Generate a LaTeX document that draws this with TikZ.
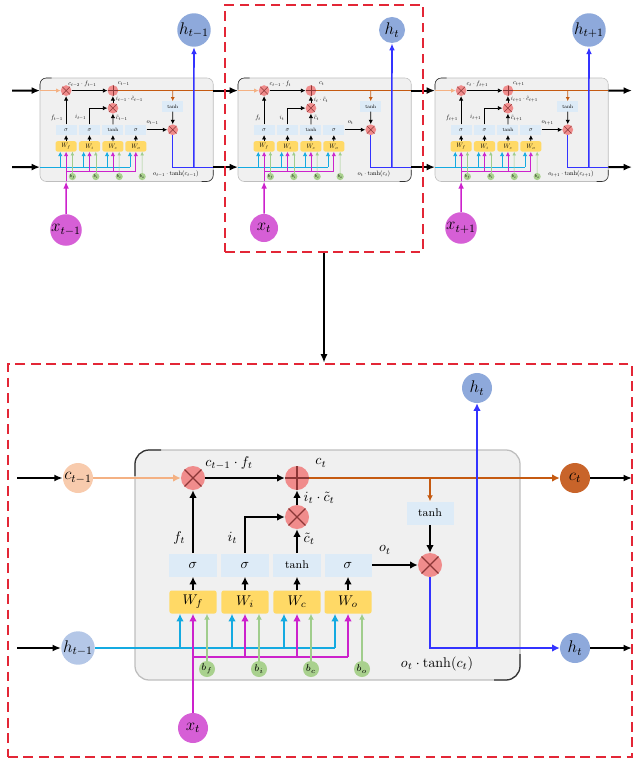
\documentclass[tikz,border=0pt]{standalone}
\usetikzlibrary{arrows.meta, positioning}
\definecolor{lstmred}{RGB}{227,38,54}
\definecolor{cellgray}{RGB}{240,240,240}
\definecolor{rimgray}{RGB}{190,190,190}
\definecolor{gatefill}{RGB}{221,235,247}
\definecolor{wfill}{RGB}{255,217,102}
\definecolor{opfill}{RGB}{240,140,140}
\definecolor{opline}{RGB}{140,55,55}
\definecolor{cellorange}{RGB}{197,90,17}
\definecolor{lightorange}{RGB}{244,177,131}
\definecolor{peach}{RGB}{248,203,173}
\definecolor{corange}{RGB}{200,100,42}
\definecolor{hblue}{RGB}{142,169,219}
\definecolor{hpale}{RGB}{180,199,231}
\definecolor{outblue}{RGB}{51,51,255}
\definecolor{hcyan}{RGB}{20,170,225}
\definecolor{xmag}{RGB}{204,34,204}
\definecolor{xfill}{RGB}{214,95,214}
\definecolor{bgreen}{RGB}{160,205,140}
\definecolor{bfill}{RGB}{169,209,142}

\begin{document}
\begin{tikzpicture}[x=0.025cm, y=-0.025cm,
    wire/.style={line width=1.3pt},
    fine/.style={line width=0.9pt},
    cellround/.style={rounded corners=10pt},
    small/.style={scale=0.45, transform shape, wire/.style={line width=0.55pt}, fine/.style={line width=0.4pt}, cellround/.style={rounded corners=4.5pt}},
    arr/.style={-{Latex[length=1.5pt 3, width=1.5pt 3]}},
    cellbody/.style={cellround, fill=cellgray, draw=rimgray, fine},
    cellrim/.style={cellround, draw=black!80, fine},
    prodnode/.style={circle, fill=opfill, minimum size=0.6cm, inner sep=0pt, path picture={\draw[opline, fine] (path picture bounding box.north west) -- (path picture bounding box.south east) (path picture bounding box.north east) -- (path picture bounding box.south west);}},
    sumnode/.style={circle, fill=opfill, minimum size=0.6cm, inner sep=0pt, path picture={\draw[opline, fine] (path picture bounding box.north) -- (path picture bounding box.south) (path picture bounding box.west) -- (path picture bounding box.east);}},
    gatebox/.style={rectangle, fill=gatefill, minimum width=1.175cm, minimum height=0.575cm, inner sep=0pt},
    wbox/.style={rectangle, rounded corners=1.5pt, fill=wfill, minimum width=1.175cm, minimum height=0.575cm, inner sep=0pt},
    biasdot/.style={circle, fill=bfill, minimum size=0.4cm, inner sep=0pt, font=\scriptsize},
    lab/.style={inner sep=1pt},
    cold/.style={wire, lightorange},
    cnew/.style={wire, cellorange},
    outw/.style={wire, outblue},
    hwire/.style={wire, hcyan},
    xwire/.style={wire, xmag},
    bwire/.style={fine, bgreen},
    statecirc/.style={circle, inner sep=0pt, minimum size=0.75cm, font=\large},
    link/.style={line width=1.5pt, -{Latex[length=6pt, width=5pt]}},
    feed/.style={line width=1.1pt, -{Latex[length=5pt, width=4pt]}},
    zoomframe/.style={draw=lstmred, line width=1.8pt, dash pattern=on 7pt off 4pt},
    pics/lstmcell/.style 2 args={code={
      % body with its two dark corners
      \path[cellbody] (0,0) rectangle (385,230);
      \draw[cellrim] (0,26) -- (0,0) -- (26,0);
      \draw[cellrim] (385,204) -- (385,230) -- (359,230);
      % ports and taps
      \coordinate (-cin) at (0,28);
      \coordinate (-cout) at (385,28);
      \coordinate (-hin) at (0,198);
      \coordinate (-hout) at (385,198);
      \coordinate (-hj) at (342,198);
      \coordinate (-xin) at (58,230);
      \coordinate (-ctap) at (295,28);
      \coordinate (-hf) at (45,198);
      \coordinate (-hi) at (97,198);
      \coordinate (-hc) at (149,198);
      \coordinate (-ho) at (200,198);
      \coordinate (-xj) at (58,207);
      \coordinate (-xi) at (110,207);
      \coordinate (-xc) at (162,207);
      \coordinate (-xo) at (213,207);
      % gates and weights
      \node[gatebox] (-gf) at (58,115) {$\sigma$};
      \node[gatebox] (-gi) at (110,115) {$\sigma$};
      \node[gatebox, font=\footnotesize] (-gc) at (162,115) {tanh};
      \node[gatebox] (-go) at (213,115) {$\sigma$};
      \node[gatebox, font=\footnotesize] (-tc) at (295,63) {tanh};
      \node[wbox] (-wf) at (58,152) {$W_f$};
      \node[wbox] (-wi) at (110,152) {$W_i$};
      \node[wbox] (-wc) at (162,152) {$W_c$};
      \node[wbox] (-wo) at (213,152) {$W_o$};
      \node[prodnode] (-fx) at (58,28) {};
      \node[sumnode] (-ad) at (162,28) {};
      \node[prodnode] (-ix) at (162,67) {};
      \node[prodnode] (-ox) at (295,115) {};
      \node[biasdot] (-bf) at (72,219) {$b_f$};
      \node[biasdot] (-bi) at (124,219) {$b_i$};
      \node[biasdot] (-bc) at (176,219) {$b_c$};
      \node[biasdot] (-bo) at (227,219) {$b_o$};
      % cell state
      \draw[cold, arr] (-cin) -- (-fx);
      \draw[wire, arr] (-fx) -- (-ad);
      \draw[cnew] (-ad) -- (-cout);
      \draw[cnew, fine, arr] (-ctap) -- (-tc);
      \draw[wire, arr] (-tc) -- (-ox);
      \draw[wire, arr] (-ix) -- (-ad);
      \draw[wire, arr] (-gc) -- (-ix);
      \draw[wire, arr] (-gi) |- (-ix);
      \draw[wire, arr] (-gf) -- (-fx);
      \draw[wire, arr] (-go) -- (-ox);
      \draw[wire, arr] (-wf) -- (-gf);
      \draw[wire, arr] (-wi) -- (-gi);
      \draw[wire, arr] (-wc) -- (-gc);
      \draw[wire, arr] (-wo) -- (-go);
      \draw[outw] (-ox) |- (-hout);
      % inputs h, x and biases
      \draw[hwire] (-hin) -- (-ho);
      \draw[hwire, arr] (-hf) -- (-hf |- -wf.south);
      \draw[hwire, arr] (-hi) -- (-hi |- -wi.south);
      \draw[hwire, arr] (-hc) -- (-hc |- -wc.south);
      \draw[hwire, arr] (-ho) -- (-ho |- -wo.south);
      \draw[xwire] (-xj) -- (-xo);
      \draw[xwire, arr] (-xin) -- (-wf);
      \draw[xwire, arr] (-xi) -- (-wi);
      \draw[xwire, arr] (-xc) -- (-wc);
      \draw[xwire, arr] (-xo) -- (-wo);
      \draw[bwire, arr] (-bf) -- (-bf |- -wf.south);
      \draw[bwire, arr] (-bi) -- (-bi |- -wi.south);
      \draw[bwire, arr] (-bc) -- (-bc |- -wc.south);
      \draw[bwire, arr] (-bo) -- (-bo |- -wo.south);
      % labels
      \node[lab] (-lfc) at (94,13) {$c_{#2}\cdot f_{#1}$};
      \node[lab] (-lc) at (186,13) {$c_{#1}$};
      \node[lab, anchor=west] (-lic) at (167,48) {$i_{#1}\cdot\tilde{c}_{#1}$};
      \node[lab, anchor=west] (-lct) at (167,89) {$\tilde{c}_{#1}$};
      \node[lab, anchor=east] (-lf) at (52,88) {$f_{#1}$};
      \node[lab, anchor=east] (-li) at (104,88) {$i_{#1}$};
      \node[lab] (-lo) at (250,100) {$o_{#1}$};
      \node[lab] (-lh) at (302,214) {$o_{#1}\cdot\tanh(c_{#1})$};
    }}
]
\useasboundingbox (0,0) rectangle (636,760);

% unrolled chain
\pic[shift={(40,78)}, small] (A) {lstmcell={t-1}{t-2}};
\pic[shift={(238,78)}, small] (B) {lstmcell={t}{t-1}};
\pic[shift={(435,78)}, small] (C) {lstmcell={t+1}{t}};
\node[statecirc, fill=hblue, minimum size=0.65cm] (h1) at (194,30) {$h_{t-1}$};
\node[statecirc, fill=hblue, minimum size=0.65cm] (h2) at (392,30) {$h_t$};
\node[statecirc, fill=hblue, minimum size=0.65cm] (h3) at (589,30) {$h_{t+1}$};
\node[statecirc, fill=xfill, minimum size=0.7cm] (x1) at (66,230) {$x_{t-1}$};
\node[statecirc, fill=xfill, minimum size=0.7cm] (x2) at (264,228) {$x_t$};
\node[statecirc, fill=xfill, minimum size=0.7cm] (x3) at (461,228) {$x_{t+1}$};
\coordinate (cl) at (12,90.6);
\coordinate (hl) at (12,167.1);
\coordinate (cr) at (632,90.6);
\coordinate (hr) at (632,167.1);
\draw[link] (cl) -- (A-cin);
\draw[link] (A-cout) -- (B-cin);
\draw[link] (B-cout) -- (C-cin);
\draw[link] (C-cout) -- (cr);
\draw[link] (hl) -- (A-hin);
\draw[link] (A-hout) -- (B-hin);
\draw[link] (B-hout) -- (C-hin);
\draw[link] (C-hout) -- (hr);
\draw[feed, outblue] (A-hj) -- (h1);
\draw[feed, outblue] (B-hj) -- (h2);
\draw[feed, outblue] (C-hj) -- (h3);
\draw[feed, xmag] (x1) -- (A-xin);
\draw[feed, xmag] (x2) -- (B-xin);
\draw[feed, xmag] (x3) -- (C-xin);

% enlarged cell
\pic[shift={(135,450)}] (D) {lstmcell={t}{t-1}};
\node[statecirc, fill=peach] (cp) at (78,478) {$c_{t-1}$};
\node[statecirc, fill=hpale] (hp) at (78,648) {$h_{t-1}$};
\node[statecirc, fill=corange] (cn) at (575,478) {$c_t$};
\node[statecirc, fill=hblue] (hn) at (575,648) {$h_t$};
\node[statecirc, fill=hblue] (hu) at (477,388) {$h_t$};
\node[statecirc, fill=xfill] (xb) at (193,728) {$x_t$};
\coordinate (bl1) at (17,478);
\coordinate (bl2) at (17,648);
\coordinate (br1) at (632,478);
\coordinate (br2) at (632,648);
\draw[link] (bl1) -- (cp);
\draw[link] (bl2) -- (hp);
\draw[link] (cn) -- (br1);
\draw[link] (hn) -- (br2);
\draw[cold] (cp) -- (D-cin);
\draw[hwire] (hp) -- (D-hin);
\draw[cnew, arr] (D-cout) -- (cn);
\draw[outw, arr] (D-hout) -- (hn);
\draw[outw, arr] (D-hj) -- (hu);
\draw[xwire] (xb) -- (D-xin);

% zoom frames
\node[zoomframe, minimum width=4.95cm, minimum height=6.175cm] (zoomsrc) at (324,128.5) {};
\node[zoomframe, minimum width=15.6cm, minimum height=9.825cm] (zoomdst) at (320,560.5) {};
\draw[link] (zoomsrc.south) -- (zoomsrc.south |- zoomdst.north);
\end{tikzpicture}
\end{document}
